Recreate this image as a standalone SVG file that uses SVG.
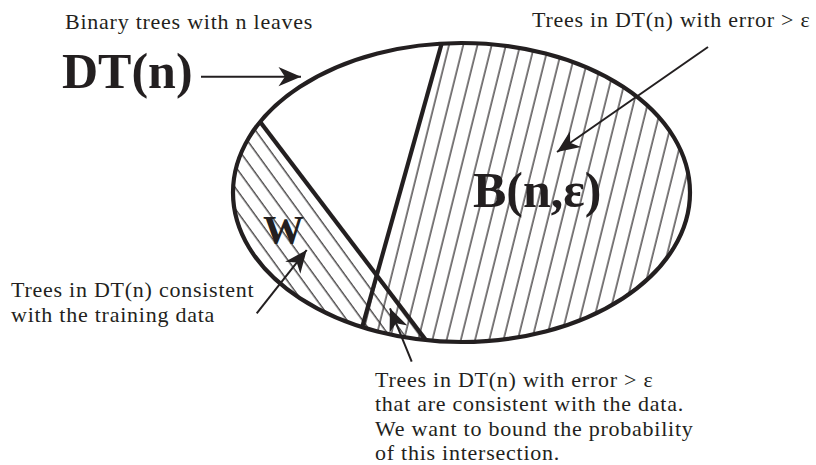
<svg xmlns="http://www.w3.org/2000/svg" width="816" height="465" viewBox="0 0 816 465">
<style>
.lbl{font-family:"Liberation Serif","Times New Roman",serif;font-size:22px;letter-spacing:0.75px;fill:#231f20}
.big{font-family:"Liberation Serif","Times New Roman",serif;font-weight:bold;fill:#231f20}
.thick{stroke:#231f20;stroke-width:4.2;fill:none}
.arrow{stroke:#231f20;stroke-width:2;fill:none;marker-end:url(#ah)}
.hatch{stroke:#231f20;stroke-width:1.2}
</style>
<defs>
<marker id="ah" markerUnits="userSpaceOnUse" markerWidth="30" markerHeight="30" viewBox="-24 -12 28 24" refX="0" refY="0" orient="auto">
<path d="M0,0 L-21,-9 L-15,0 L-21,9 Z" fill="#231f20"/>
</marker>
<pattern id="pb" patternUnits="userSpaceOnUse" width="13.8" height="20" patternTransform="rotate(14)">
<line class="hatch" x1="5" y1="-2" x2="5" y2="22"/>
</pattern>
<pattern id="pw" patternUnits="userSpaceOnUse" width="12.5" height="20" patternTransform="rotate(-36)">
<line class="hatch" x1="5" y1="-2" x2="5" y2="22"/>
</pattern>
<clipPath id="ell">
<ellipse cx="461.5" cy="192.5" rx="228.5" ry="149.5"/>
</clipPath>
</defs>

<g id="dtn">
<g clip-path="url(#ell)">
<polygon id="region-b" points="453.5,1.3 720,1.3 720,365.3 351.5,365.3" fill="url(#pb)"/>
<polygon id="region-w" points="211,57.2 456,379.7 200,379.7 200,57.2" fill="url(#pw)"/>
<line class="thick" x1="453.5" y1="1.3" x2="351.5" y2="365.3"/>
<line class="thick" x1="211" y1="57.2" x2="456" y2="379.7"/>
</g>
<ellipse class="thick" cx="461.5" cy="192.5" rx="228.5" ry="149.5" stroke-width="4.5"/>
</g>

<g id="label-binary"><text class="lbl" x="65" y="29">Binary trees with n leaves</text></g>
<g id="label-dtn"><text class="big" x="62" y="88" font-size="50">DT(n)</text></g>
<g id="label-error"><text class="lbl" x="532" y="27">Trees in DT(n) with error &gt; ε</text></g>
<g id="label-b"><text class="big" x="473" y="207" font-size="50">B(n,ε)</text></g>
<g id="label-w"><text class="big" x="263" y="243" font-size="41">W</text></g>
<g id="label-consistent">
<text class="lbl" x="11" y="297">Trees in DT(n) consistent</text>
<text class="lbl" x="11" y="322">with the training data</text>
</g>
<g id="label-intersection">
<text class="lbl" x="375" y="387">Trees in DT(n) with error &gt; ε</text>
<text class="lbl" x="375" y="411.4">that are consistent with the data.</text>
<text class="lbl" x="375" y="435.8">We want to bound the probability</text>
<text class="lbl" x="375" y="460.2">of this intersection.</text>
</g>

<g id="connectors">
<line class="arrow" x1="201" y1="76.7" x2="301" y2="76.7"/>
<line class="arrow" x1="708" y1="47" x2="557" y2="152"/>
<line class="arrow" x1="256.7" y1="313.3" x2="306.7" y2="250"/>
<line class="arrow" x1="411.7" y1="361.7" x2="390" y2="308.3"/>
</g>
</svg>
